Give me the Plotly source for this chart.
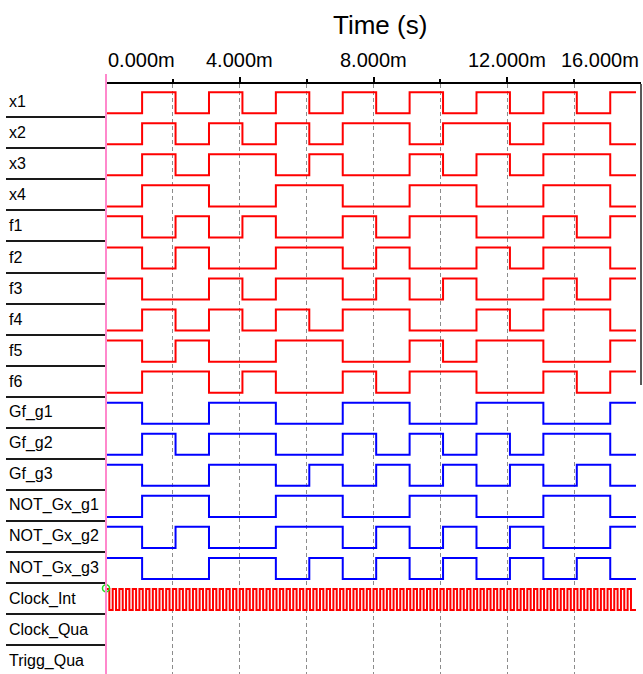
import plotly.graph_objects as go

# ---------------- data ----------------
signal_names = ["x1", "x2", "x3", "x4", "f1", "f2", "f3", "f4", "f5", "f6",
                "Gf_g1", "Gf_g2", "Gf_g3", "NOT_Gx_g1", "NOT_Gx_g2", "NOT_Gx_g3",
                "Clock_Int", "Clock_Qua", "Trigg_Qua"]

# logic level in each 1 ms slot (slot 0 .. 15)
x1 = [0, 1, 0, 1, 0, 1, 0, 1, 0, 1, 0, 1, 0, 1, 0, 1]
x2 = [0, 1, 0, 1, 0, 1, 0, 1, 1, 0, 1, 1, 0, 1, 1, 0]
x3 = [0, 1, 0, 1, 1, 0, 1, 0, 0, 1, 0, 1, 0, 1, 1, 0]
x4 = [0, 1, 1, 0, 0, 1, 1, 0, 0, 1, 1, 0, 0, 1, 1, 0]
f1 = [1, 0, 1, 0, 1, 0, 0, 1, 0, 1, 1, 0, 0, 1, 0, 1]
f2 = [1, 0, 1, 0, 0, 1, 1, 0, 1, 0, 0, 1, 0, 1, 1, 0]
f3 = [1, 0, 0, 1, 0, 1, 1, 0, 1, 0, 1, 0, 0, 1, 0, 1]
f4 = [0, 1, 0, 1, 0, 1, 0, 1, 1, 0, 0, 1, 0, 1, 1, 0]
f5 = [1, 0, 1, 0, 0, 1, 1, 0, 0, 1, 0, 1, 1, 0, 0, 1]
f6 = [0, 1, 1, 0, 1, 0, 0, 1, 0, 1, 1, 0, 0, 1, 0, 1]
gf_g1 = [1, 0, 0, 1, 1, 0, 0, 1, 1, 0, 0, 1, 1, 0, 0, 1]
gf_g2 = [0, 1, 0, 1, 1, 0, 0, 1, 0, 1, 0, 1, 0, 1, 1, 0]
gf_g3 = [1, 0, 0, 1, 1, 0, 1, 0, 1, 0, 1, 0, 1, 0, 1, 0]
not_gx_g1 = [0, 1, 1, 0, 0, 1, 1, 0, 0, 1, 1, 0, 0, 1, 1, 0]
not_gx_g2 = [1, 0, 1, 0, 0, 1, 1, 0, 1, 0, 1, 0, 1, 0, 0, 1]
not_gx_g3 = [1, 0, 0, 1, 1, 0, 1, 0, 1, 0, 1, 0, 1, 0, 1, 0]

red_signals = [x1, x2, x3, x4, f1, f2, f3, f4, f5, f6]
blue_signals = [gf_g1, gf_g2, gf_g3, not_gx_g1, not_gx_g2, not_gx_g3]

slot_ms = 1.0          # width of one slot
edge_delay_ms = 0.08   # edges lag the slot boundary slightly
end_ms = 15.85         # end of captured data
clock_half_period_ms = 0.1

tick_values = [0, 4, 8, 12, 16]
tick_labels = ["0.000m", "4.000m", "8.000m", "12.000m", "16.000m"]
minor_values = [2, 6, 10, 14]

# ---------------- style ----------------
W, H = 643, 674
L, R, T, B = 106, 2, 84, 0
ROW_PX = 31.05
Y_TOP = -0.072
Y_BOT = Y_TOP + (H - T - B) / ROW_PX
HI, LO = 0.19, 0.87
FONT = "Liberation Sans, Arial, sans-serif"

RED = "#ff0000"
BLUE = "#0000ff"


def step_trace(bits, row, color):
    xs = [0.0] + [k * slot_ms + edge_delay_ms for k in range(1, len(bits))] + [end_ms]
    ys = [row + (HI if b else LO) for b in bits] + [row + (HI if bits[-1] else LO)]
    return go.Scatter(x=xs, y=ys, mode="lines", line=dict(color=color, width=2, shape="hv"),
                      hoverinfo="skip", showlegend=False)


fig = go.Figure()
for i, s in enumerate(red_signals):
    fig.add_trace(step_trace(s, i, RED))
for j, s in enumerate(blue_signals):
    fig.add_trace(step_trace(s, len(red_signals) + j, BLUE))

# Clock_Int
clk_row = signal_names.index("Clock_Int")
n_half = int(end_ms / clock_half_period_ms)
cx = [k * clock_half_period_ms for k in range(n_half)] + [end_ms]
cy = [clk_row + (HI if k % 2 == 0 else LO) for k in range(n_half)]
cy.append(cy[-1])
fig.add_trace(go.Scatter(x=cx, y=cy, mode="lines", line=dict(color=RED, width=2, shape="hv"),
                         hoverinfo="skip", showlegend=False))

# cursor marker at top and green ring at clock start
fig.add_trace(go.Scatter(x=[0], y=[Y_TOP - 7.5 / ROW_PX], mode="markers", cliponaxis=False,
                         marker=dict(symbol="triangle-down", size=15, color=RED),
                         hoverinfo="skip", showlegend=False))
fig.add_trace(go.Scatter(x=[0], y=[Y_TOP - 6.5 / ROW_PX], mode="markers", cliponaxis=False,
                         marker=dict(symbol="triangle-down", size=10, color="#22cc22"),
                         hoverinfo="skip", showlegend=False))
fig.add_trace(go.Scatter(x=[0], y=[clk_row + 0.17], mode="markers", cliponaxis=False,
                         marker=dict(symbol="circle-open", size=7, color="#22dd22", line=dict(width=1.5)),
                         hoverinfo="skip", showlegend=False))


def py(px):
    """pixel row -> paper y"""
    return (H - B - px) / (H - T - B)


# pink cursor line
fig.add_shape(type="line", xref="paper", yref="paper", x0=0, x1=0, y0=py(74), y1=py(H),
              line=dict(color="#ff88cc", width=2))
# right border (upper part)
fig.add_shape(type="line", xref="paper", yref="paper", x0=1.0, x1=1.0, y0=py(84), y1=py(385),
              line=dict(color="#222222", width=1.5))

# row labels
for i, name in enumerate(signal_names):
    fig.add_annotation(text=name, xref="paper", yref="y", x=(7 - L) / (W - L - R), y=i + 0.5,
                       xanchor="left", yanchor="middle", showarrow=False,
                       font=dict(family=FONT, size=16, color="#000000"))

# time tick labels
for v, t in zip(tick_values, tick_labels):
    anchor = "left" if v == tick_values[0] else ("right" if v == tick_values[-1] else "center")
    fig.add_annotation(text=t, xref="x", yref="paper", x=v, y=py(60), xanchor=anchor,
                       yanchor="middle", showarrow=False,
                       font=dict(family=FONT, size=20, color="#000000"))

fig.add_annotation(text="Time (s)", xref="paper", yref="paper", x=(380 - L) / (W - L - R),
                   y=py(25), xanchor="center", yanchor="middle", showarrow=False,
                   font=dict(family=FONT, size=26, color="#000000"))

fig.update_xaxes(range=[0, 16], side="top", showline=True, linecolor="#000000", linewidth=2,
                 tickvals=tick_values[1:-1], ticks="outside", ticklen=5, tickwidth=1.5,
                 tickcolor="#000000", showticklabels=False, zeroline=False,
                 showgrid=True, gridcolor="#8c8c8c", gridwidth=1, griddash="4px,3px",
                 minor=dict(tickvals=minor_values, ticks="outside", ticklen=3, tickcolor="#000000",
                            showgrid=True, gridcolor="#8c8c8c", gridwidth=1, griddash="4px,3px"))
fig.update_yaxes(range=[Y_BOT, Y_TOP], showgrid=False, zeroline=False, showline=False,
                 tickvals=[i + 1 for i in range(len(signal_names))], ticks="outside",
                 ticklen=99, tickwidth=2, tickcolor="#1a1a1a", showticklabels=False)

fig.update_layout(width=W, height=H, margin=dict(l=L, r=R, t=T, b=B, pad=0),
                  paper_bgcolor="#ffffff", plot_bgcolor="#ffffff", showlegend=False)

fig.write_html("out.html")
